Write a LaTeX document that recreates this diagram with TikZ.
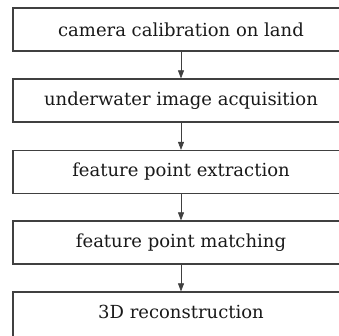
\documentclass[tikz,border=0pt]{standalone}
\usepackage{fontspec}
\setmainfont{DejaVu Serif}
\usetikzlibrary{arrows.meta}
\tikzset{
  stepbox/.style={draw=black!75, line width=1.25pt, rectangle, minimum width=336pt,
    minimum height=43pt, inner sep=0pt, font=\fontsize{18}{22}\selectfont, text=black!90},
  flow/.style={draw=black!75, line width=0.6pt, -{Triangle[length=8pt,width=6pt]}}
}
\begin{document}
\begin{tikzpicture}[x=1pt,y=-1pt]
  \useasboundingbox (0,0) rectangle (339,335);
  \clip (0,0) rectangle (339,335);
  \node[stepbox] (s1) at (181,29.5) {camera calibration on land};
  \node[stepbox] (s2) at (181,100.5) {underwater image acquisition};
  \node[stepbox] (s3) at (181,172) {feature point extraction};
  \node[stepbox] (s4) at (181,242.5) {feature point matching};
  \node[stepbox, minimum height=60pt, text depth=21pt] (s5) at (181,322) {3D reconstruction};
  \draw[flow] (s1) -- (s2);
  \draw[flow] (s2) -- (s3);
  \draw[flow] (s3) -- (s4);
  \draw[flow] (s4) -- (s5);
\end{tikzpicture}
\end{document}
